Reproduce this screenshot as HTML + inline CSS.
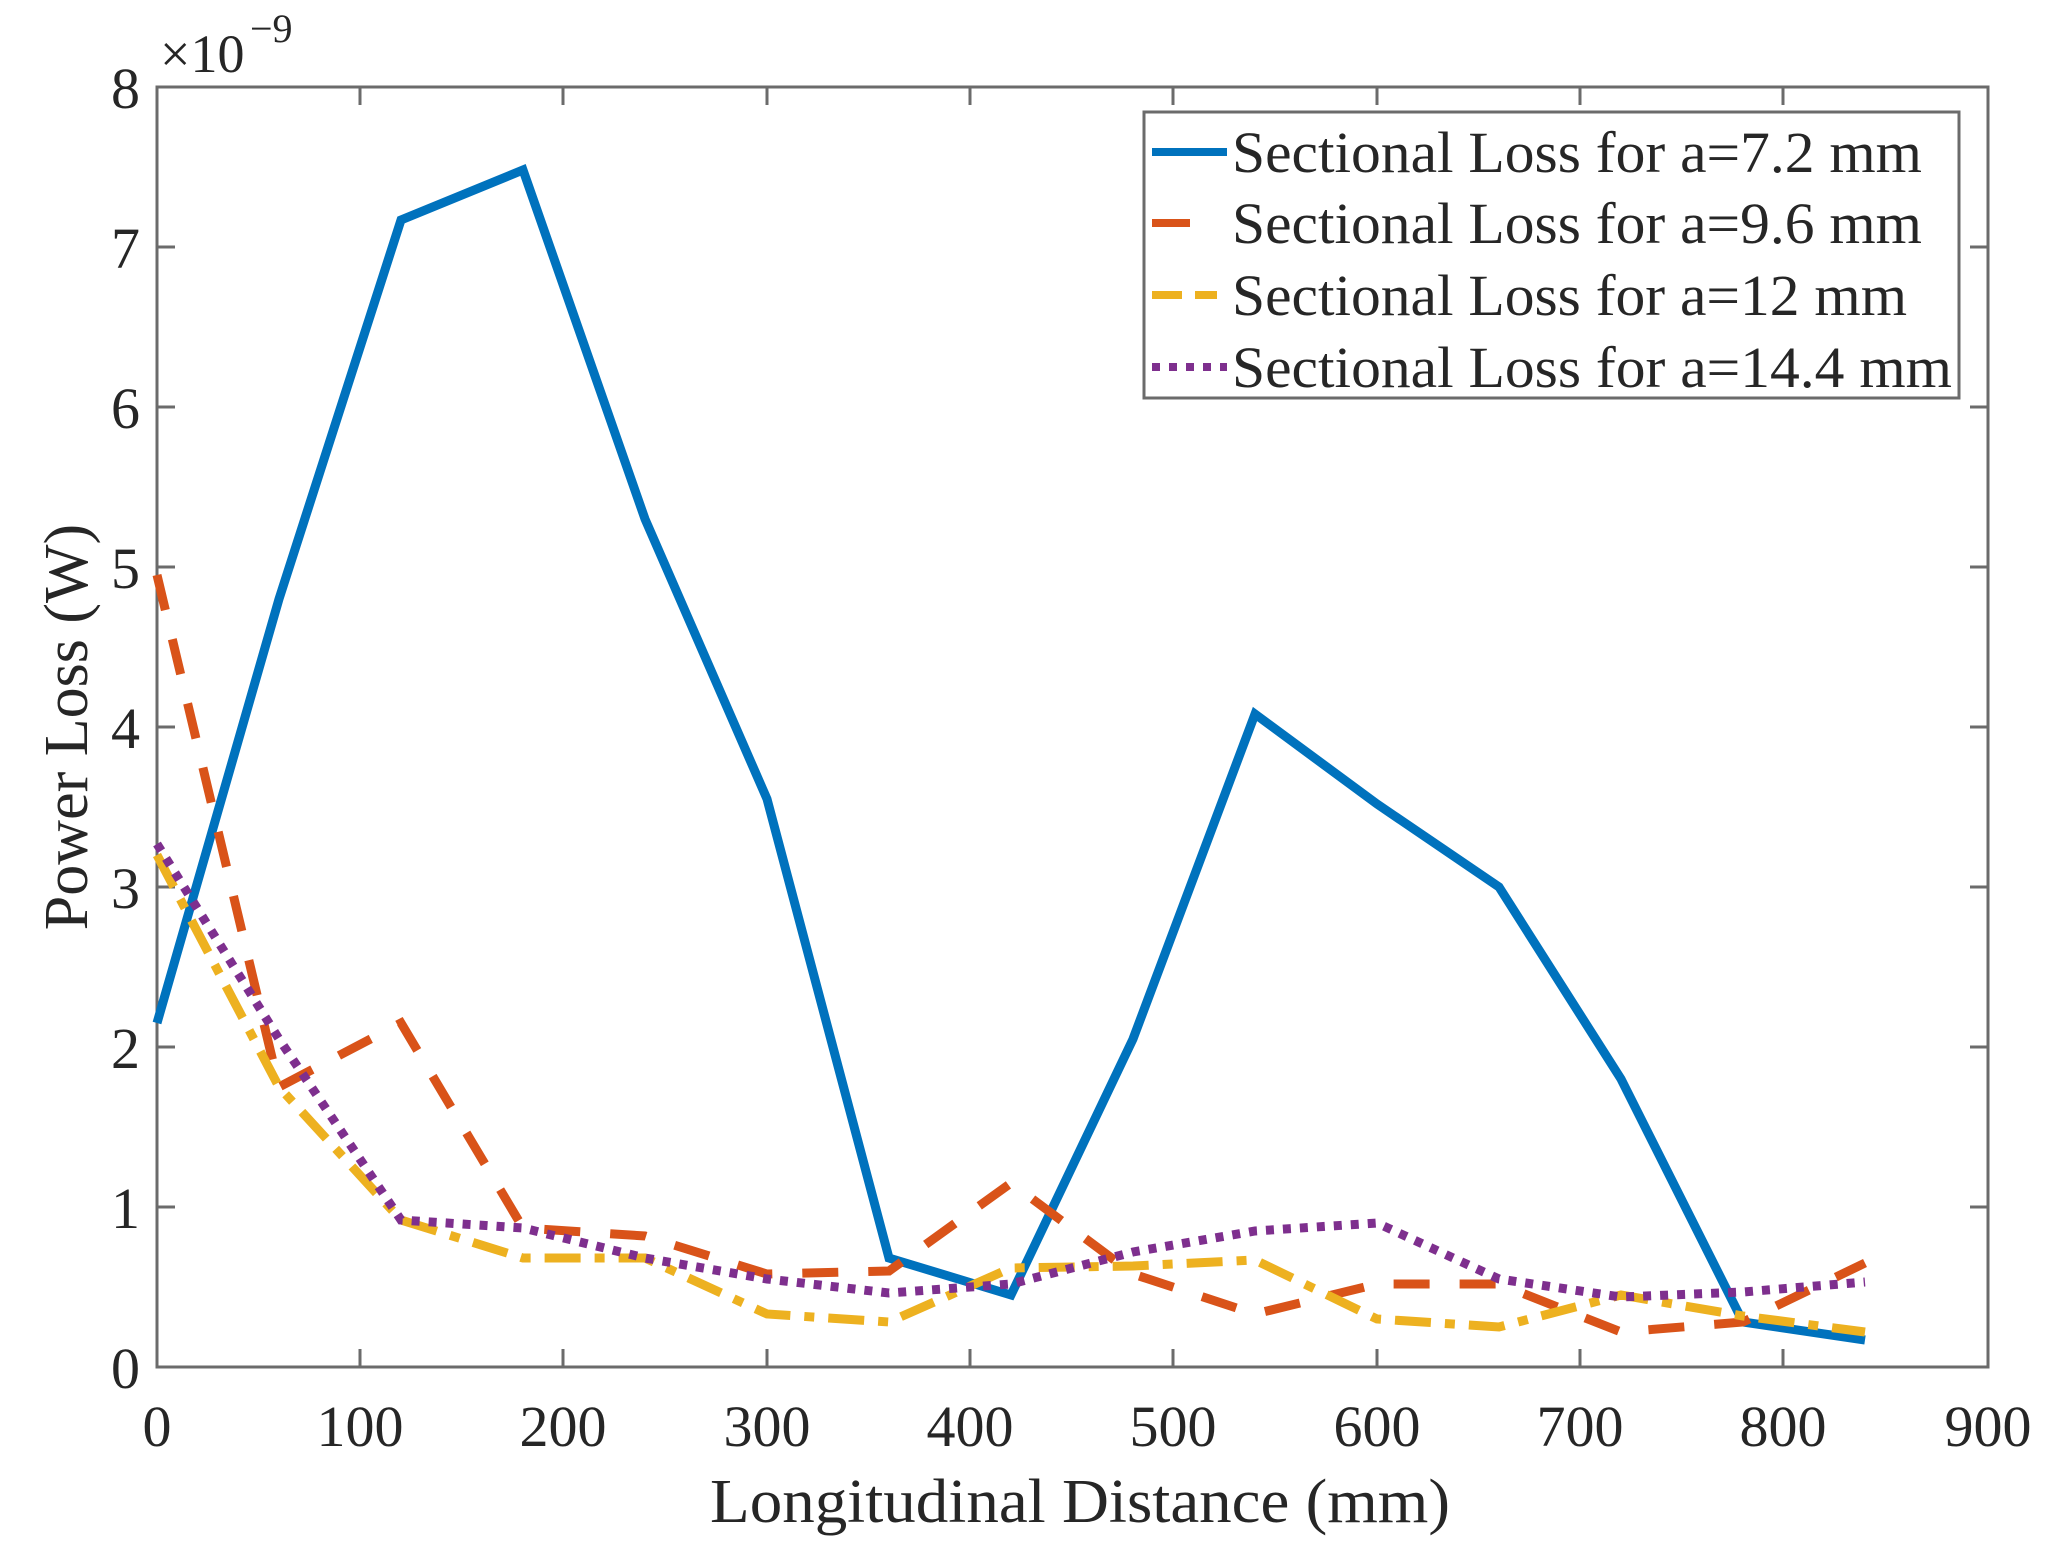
<!DOCTYPE html>
<html><head><meta charset="utf-8"><style>
html,body{margin:0;padding:0;background:#fff}
svg{display:block}
text{font-family:"Liberation Serif",serif;fill:#262626}
</style></head><body>
<svg width="2049" height="1559" viewBox="0 0 2049 1559" xmlns="http://www.w3.org/2000/svg">
<rect width="2049" height="1559" fill="#fff"/>
<g stroke="#6b6b6b" stroke-width="3" fill="none">
<rect x="157" y="87" width="1831" height="1280"/>
<path d="M360,1367v-18M563,1367v-18M767,1367v-18M970,1367v-18M1173,1367v-18M1377,1367v-18M1580,1367v-18M1783,1367v-18
M360,87v18M563,87v18M767,87v18M970,87v18M1173,87v18M1377,87v18M1580,87v18M1783,87v18
M157,1207h18M157,1047h18M157,887h18M157,727h18M157,567h18M157,407h18M157,247h18
M1988,1207h-18M1988,1047h-18M1988,887h-18M1988,727h-18M1988,567h-18M1988,407h-18M1988,247h-18"/>
</g>
<g font-size="58" text-anchor="end">
<text x="140" y="1388">0</text><text x="140" y="1228">1</text><text x="140" y="1068">2</text><text x="140" y="908">3</text>
<text x="140" y="748">4</text><text x="140" y="588">5</text><text x="140" y="428">6</text><text x="140" y="268">7</text><text x="140" y="108">8</text>
</g>
<g font-size="58" text-anchor="middle">
<text x="157" y="1446">0</text><text x="360" y="1446">100</text><text x="563" y="1446">200</text><text x="767" y="1446">300</text>
<text x="970" y="1446">400</text><text x="1173" y="1446">500</text><text x="1377" y="1446">600</text><text x="1580" y="1446">700</text>
<text x="1783" y="1446">800</text><text x="1988" y="1446">900</text>
<text x="1080" y="1522" font-size="62" textLength="740" lengthAdjust="spacingAndGlyphs">Longitudinal Distance (mm)</text>
<text transform="translate(87,727) rotate(-90)" font-size="62">Power Loss (W)</text>
</g>
<text x="160" y="72" font-size="54">×10</text><text x="250" y="42" font-size="40">−9</text>
<g fill="none" stroke-width="9" stroke-linejoin="miter">
<polyline stroke="#0072BD" points="157,1023 279,599 401,220 523,170 645,519 767,799 889,1258 1011,1295 1133,1039 1255,714 1377,804 1499,887 1621,1079 1743,1322 1865,1340"/>
<polyline stroke="#D95319" stroke-dasharray="36,30" points="157,575 279,1087 401,1023 523,1228 645,1236 767,1274 889,1271 1011,1183 1133,1274 1255,1314 1377,1284 1499,1284 1621,1332 1743,1322 1865,1263"/>
<polyline stroke="#EDB120" stroke-dasharray="36,14,10,14" points="157,855 279,1087 401,1220 523,1258 645,1258 767,1314 889,1322 1011,1268 1133,1266 1255,1260 1377,1319 1499,1327 1621,1295 1743,1316 1865,1332"/>
<polyline stroke="#7E2F8E" stroke-dasharray="8,9" points="157,844 279,1039 401,1220 523,1228 645,1258 767,1279 889,1293 1011,1284 1133,1252 1255,1231 1377,1223 1499,1279 1621,1297 1743,1292 1865,1282"/>
</g>
<rect x="1144" y="112" width="815" height="286" fill="#fff" stroke="#6b6b6b" stroke-width="3"/>
<g stroke-width="8" fill="none">
<path d="M1152,152h75" stroke="#0072BD"/>
<path d="M1152,223h38" stroke="#D95319"/>
<path d="M1152,295h30M1195,295h22" stroke="#EDB120"/>
<path d="M1152,367h75" stroke="#7E2F8E" stroke-dasharray="8,9"/>
</g>
<g font-size="58">
<text x="1232" y="172" textLength="690" lengthAdjust="spacingAndGlyphs">Sectional Loss for a=7.2 mm</text>
<text x="1232" y="243" textLength="690" lengthAdjust="spacingAndGlyphs">Sectional Loss for a=9.6 mm</text>
<text x="1232" y="315" textLength="675" lengthAdjust="spacingAndGlyphs">Sectional Loss for a=12 mm</text>
<text x="1232" y="387" textLength="720" lengthAdjust="spacingAndGlyphs">Sectional Loss for a=14.4 mm</text>
</g>
</svg>
</body></html>
